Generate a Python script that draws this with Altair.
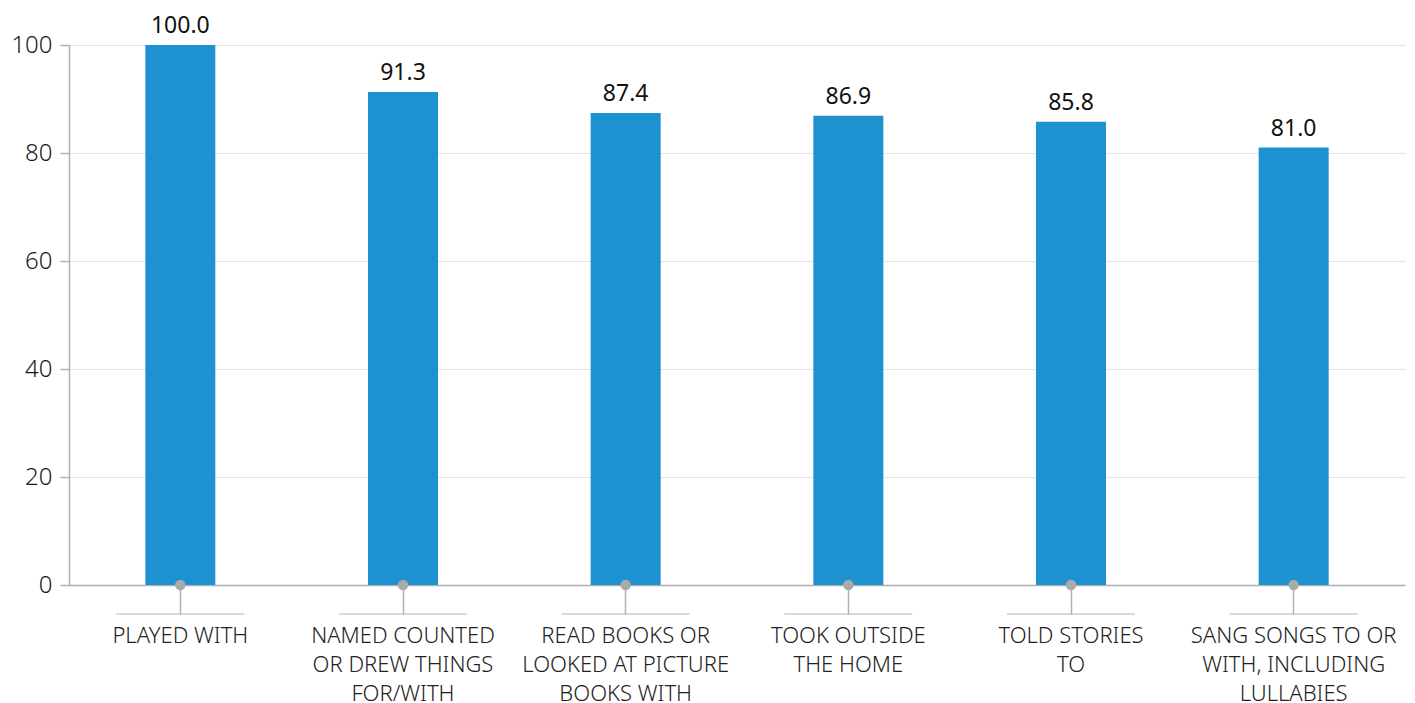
import altair as alt
import pandas as pd

categories = ["Played with", "Named counted or drew things for/with",
              "Read books or looked at picture books with", "Took outside the home",
              "Told stories to", "Sang songs to or with, including lullabies"]
labels = ["PLAYED WITH", "NAMED COUNTED\nOR DREW THINGS\nFOR/WITH",
          "READ BOOKS OR\nLOOKED AT PICTURE\nBOOKS WITH", "TOOK OUTSIDE\nTHE HOME",
          "TOLD STORIES\nTO", "SANG SONGS TO OR\nWITH, INCLUDING\nLULLABIES"]
values = [100.0, 91.3, 87.4, 86.9, 85.8, 81.0]

df = pd.DataFrame({"cat": labels, "value": values, "zero": [0] * len(values)})

FONT = "Noto Sans"
x = alt.X("cat:N", sort=labels, title=None,
          scale=alt.Scale(paddingInner=0.0, paddingOuter=0.0),
          axis=alt.Axis(labelExpr="split(datum.label, '\\n')", labelAngle=0,
                        labelFontSize=22, labelLineHeight=29, labelFont=FONT,
                        labelFontWeight=300, labelColor="#222222", labelLimit=0,
                        labelPadding=11, tickSize=29, tickColor="#b0b0b0",
                        tickWidth=1.5, domainColor="#b0b0b0", domainWidth=1.5,
                        labelBaseline="top", grid=False))

base = alt.Chart(df)

bars = base.mark_bar(size=70, color="#1e92d0").encode(
    x=x,
    y=alt.Y("value:Q", title=None, scale=alt.Scale(domain=[0, 100], nice=False),
            axis=alt.Axis(values=[0, 20, 40, 60, 80, 100], labelFontSize=24,
                          labelFont=FONT, labelFontWeight=300, labelColor="#1a1a1a",
                          tickSize=9, tickColor="#b0b0b0", tickWidth=1.5,
                          domainColor="#b0b0b0", domainWidth=1.5, labelPadding=8,
                          gridColor="#e3e3e3", gridWidth=1)),
)

text = base.mark_text(baseline="bottom", dy=-7, fontSize=23, font=FONT,
                      color="#111111").encode(
    x=alt.X("cat:N", sort=labels),
    y="value:Q",
    text=alt.Text("value:Q", format=".1f"),
)

dots = base.mark_circle(size=110, color="#aaaaaa", opacity=1, clip=False).encode(
    x=alt.X("cat:N", sort=labels),
    y="zero:Q",
)

underline = base.mark_tick(orient="horizontal", size=128, thickness=1.5,
                           color="#b8b8b8", clip=False).encode(
    x=alt.X("cat:N", sort=labels),
    y=alt.value(569),
)

chart = alt.layer(bars, text, dots, underline).properties(
    width=1336, height=540,
    autosize=alt.AutoSizeParams(type="none"),
    padding={"left": 69, "top": 45, "right": 10, "bottom": 118},
).configure_view(stroke=None)

chart.save("out.html", embed_options={"renderer": "svg", "actions": False})
